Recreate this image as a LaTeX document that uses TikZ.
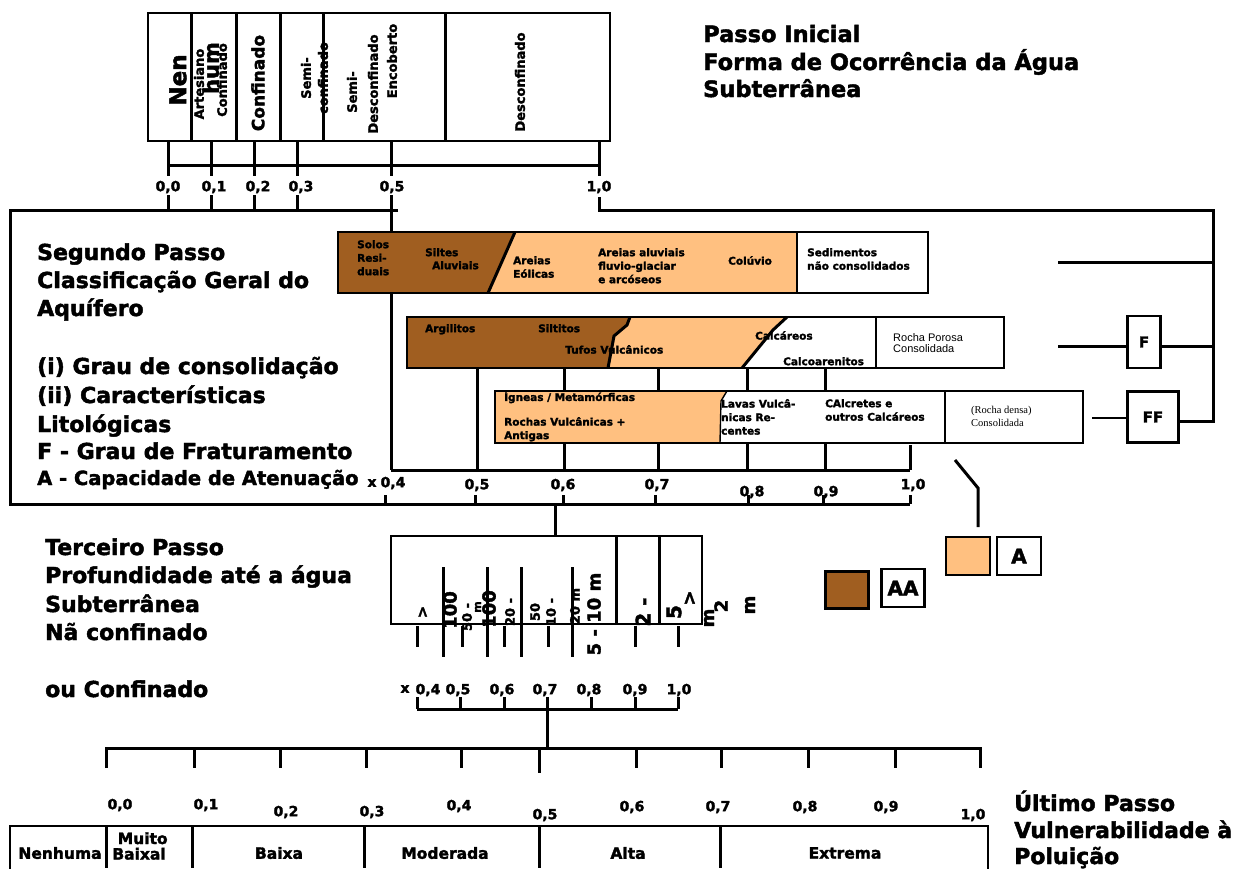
\documentclass[tikz,border=0pt]{standalone}
\usepackage{fontspec}
\setmainfont{DejaVu Sans}[BoldFeatures={FakeBold=2}]
\newfontfamily\lsans{Liberation Sans}
\newfontfamily\lserif{Liberation Serif}
\definecolor{brn}{RGB}{160,94,32}
\definecolor{org}{RGB}{255,192,128}
\begin{document}
\begin{tikzpicture}[x=1pt,y=-1pt,
  ln/.style={line width=3pt},
  thn/.style={line width=1.4pt},
  bx/.style={draw,line width=2.6pt},
  ttl/.style={font=\fontsize{22}{22}\selectfont\bfseries,anchor=base west,inner sep=0pt},
  lab/.style={font=\fontsize{14}{14}\selectfont\bfseries,inner sep=0pt},
  sm/.style={font=\fontsize{10.5}{13.5}\selectfont\bfseries,inner sep=0pt,anchor=north west,align=left},
  vt/.style={rotate=90,inner sep=0pt,font=\bfseries},
  fs/.style={font=\fontsize{#1}{#1}\selectfont\bfseries},
]
\useasboundingbox (0,0) rectangle (1234,868);

% ---------- top box (Passo Inicial) ----------
\node[vt,fs=23] (nen) at (178,80) {Nen};
\node[vt,fs=13] (art) at (199,84) {Artesiano};
\node[vt,fs=13] (conf1) at (222,80) {Confinado};
\node[vt,fs=21] (hum) at (211,68) {hum};
\node[vt,fs=17] (conf) at (258,83) {Confinado};
\node[vt,fs=13] (semi1) at (306,78) {Semi-};
\node[vt,fs=13] (semi1b) at (323,78) {confinado};
\node[vt,fs=13] (semi2) at (352,92) {Semi-};
\node[vt,fs=13] (desc1) at (373,84) {Desconfinado};
\node[vt,fs=13] (enc) at (392,61) {Encoberto};
\node[vt,fs=13] (desc2) at (520,82) {Desconfinado};
\draw[bx] (148,13) rectangle (610,141);
\foreach \x in {191,236,280,323,445} \draw[ln] (\x,13) -- (\x,141);

\draw[ln] (168,165) -- (599,165);
\foreach \x in {168,211,254,297,391,599} \draw[ln] (\x,141) -- (\x,176);
\foreach \x/\t in {168/{0,0},214/{0,1},258/{0,2},301/{0,3},392/{0,5},599/{1,0}}
  \node[lab] at (\x,187) {\t};
\foreach \x in {168,211,254,297} \draw[ln] (\x,195) -- (\x,210);
\draw[ln] (391,195) -- (391,470);
\draw[ln] (599,197) -- (599,210) -- (1213,210) -- (1213,421) -- (1179,421);

\node[ttl,fs=22.5] at (703,42) {Passo Inicial};
\node[ttl,fs=22.5] at (703,70) {Forma de Ocorrência da Água};
\node[ttl,fs=22.5] at (703,97) {Subterrânea};

% ---------- second step frame and axes ----------
\draw[ln] (398,210) -- (10,210) -- (10,504) -- (910,504);
\foreach \x in {385,475,563,655,748,823,910} \draw[ln] (\x,495) -- (\x,504);
\draw[ln] (391,470) -- (910,470);
\foreach \x in {477,564,658,747,825} \draw[ln] (\x,368) -- (\x,470);
\draw[ln] (910,445) -- (910,470);

\node[lab] at (372,483) {x};
\foreach \x/\y/\t in {393/483/{0,4},477/485/{0,5},563/485/{0,6},657/485/{0,7},752/492/{0,8},826/492/{0,9},913/485/{1,0}}
  \node[lab] at (\x,\y) {\t};

\node[ttl] at (37,260) {Segundo Passo};
\node[ttl] at (37,288) {Classificação Geral do};
\node[ttl] at (37,316) {Aquífero};
\node[ttl] at (37,374) {(i) Grau de consolidação};
\node[ttl] at (37,403) {(ii) Características};
\node[ttl] at (37,432) {Litológicas};
\node[ttl] at (37,459) {F - Grau de Fraturamento};
\node[ttl,fs=19.5] at (37,485) {A - Capacidade de Atenuação};

% row 1
\fill[brn] (338,232) -- (515,232) -- (488,293) -- (338,293) -- cycle;
\fill[org] (515,232) -- (797,232) -- (797,293) -- (488,293) -- cycle;
\fill[white] (797,232) rectangle (928,293);
\draw[ln] (515,232) -- (488,293);
\draw[bx] (338,232) rectangle (928,293);
\draw[bx] (797,232) -- (797,293);
\node[sm] at (357,240) {Solos\\Resi-\\duais};
\node[sm] at (425,248) {Siltes};
\node[sm] at (432,261) {Aluviais};
\node[sm] at (513,256) {Areias\\Eólicas};
\node[sm] at (598,248) {Areias aluviais\\fluvio-glaciar\\e arcóseos};
\node[sm] at (728,256) {Colúvio};
\node[sm] at (807,248) {Sedimentos\\não consolidados};

% row 2
\fill[white] (407,317) rectangle (1004,368);
\fill[brn] (407,317) -- (630,317) -- (627,325) -- (614,336) -- (608,368) -- (407,368) -- cycle;
\fill[org] (630,317) -- (787,317) -- (773,330) -- (742,368) -- (608,368) -- (614,336) -- (627,325) -- cycle;
\draw[ln] (630,317) -- (627,325) -- (614,336) -- (608,368);
\draw[ln] (787,317) -- (773,330) -- (742,368);
\draw[bx] (407,317) rectangle (1004,368);
\draw[bx] (876,317) -- (876,368);
\node[sm] at (425,324) {Argilitos};
\node[sm] at (538,324) {Siltitos};
\node[sm] at (565,345) {Tufos Vulcânicos};
\node[sm] at (755,331) {Calcáreos};
\node[sm] at (783,357) {Calcoarenitos};
\node[sm,font=\fontsize{11}{11.5}\selectfont\lsans] at (893,333) {Rocha Porosa\\Consolidada};

% row 3
\fill[white] (495,391) rectangle (1083,443);
\fill[org] (495,391) -- (727,391) -- (721,401) -- (720,443) -- (495,443) -- cycle;
\draw[thn] (727,391) -- (721,401) -- (720,443);
\draw[bx] (495,391) rectangle (1083,443);
\draw[bx] (945,391) -- (945,443);
\node[sm] at (504,391) {Ígneas / Metamórficas};
\node[sm] at (504,417) {Rochas Vulcânicas +\\Antigas};
\node[sm] at (721,399) {Lavas Vulcâ-\\nicas Re-\\centes};
\node[sm] at (825,399) {CAlcretes e\\outros Calcáreos};
\node[sm,font=\fontsize{10.5}{13.5}\selectfont\lserif] at (971,406) {(Rocha densa)\\Consolidada};

% right side F / FF
\draw[ln] (1058,262) -- (1213,262);
\node[draw,line width=2.6pt,minimum width=33pt,minimum height=52pt,fs=15] (F) at (1144,342) {F};
\node[draw,line width=2.6pt,minimum width=51pt,minimum height=51pt,fs=15] (FF) at (1153,417) {FF};
\draw[ln] (1058,346) -- (F.west |- 0,346);
\draw[ln] (F.east |- 0,346) -- (1213,346);
\coordinate (ffin) at (1092,418);
\draw[thn] (ffin) -- (FF.west |- ffin);

% legend
\draw[ln] (955,460) -- (978,488) -- (978,527);
\node[draw,line width=2.6pt,fill=org,minimum width=44pt,minimum height=38pt] (legA) at (968,556) {};
\node[draw,line width=2.6pt,minimum width=44pt,minimum height=38pt,fs=20] (A) at (1019,556) {A};
\node[draw,line width=2.6pt,fill=brn,minimum width=43pt,minimum height=37pt] (legAA) at (847,590) {};
\node[draw,line width=2.6pt,minimum width=43pt,minimum height=38pt,fs=20,inner sep=0pt] (AA) at (903,588) {AA};

% ---------- third step ----------
\draw[ln] (555,504) -- (555,536);
\node[ttl] at (45,555) {Terceiro Passo};
\node[ttl] at (45,583) {Profundidade até a água};
\node[ttl] at (45,612) {Subterrânea};
\node[ttl] at (45,640) {Nã confinado};
\node[ttl] at (45,697) {ou Confinado};

\node[vt,fs=15] at (423,612) {>};
\node[vt,fs=18] at (450,610) {100};
\node[vt,fs=13] at (467,617) {50 -};
\node[vt,fs=11] at (478,607) {m};
\node[vt,fs=18] at (489,609) {100};
\node[vt,fs=13] at (510,612) {20 -};
\node[vt,fs=13] at (535,612) {50};
\node[vt,fs=13] at (551,612) {10 -};
\node[vt,fs=13] at (575,606) {20 m};
\node[vt,fs=18] at (594,614) {5 - 10 m};
\node[vt,fs=20] at (643,612) {2 -};
\node[vt,fs=20] at (674,612) {5};
\node[vt,fs=18] at (690,598) {>};
\node[vt,fs=18] at (709,618) {m};
\node[vt,fs=18] at (721,606) {2};
\node[vt,fs=18] at (750,605) {m};

\draw[bx] (391,536) rectangle (702,624);
\foreach \x in {616,659} \draw[ln] (\x,536) -- (\x,624);
\foreach \x in {443,487,521,572} \draw[ln] (\x,567) -- (\x,657);
\foreach \x in {417,462,504,548,635,678} \draw[ln] (\x,626) -- (\x,647);

\node[lab] at (405,689) {x};
\foreach \x/\t in {428/{0,4},458/{0,5},502/{0,6},545/{0,7},589/{0,8},635/{0,9},679/{1,0}}
  \node[lab] at (\x,690) {\t};
\draw[ln] (417,709) -- (678,709);
\foreach \x in {417,460,504,547,591,635,678} \draw[ln] (\x,697) -- (\x,709);
\draw[ln] (547,709) -- (547,748);

% ---------- last step ----------
\draw[ln] (106,768) -- (106,748) -- (980,748) -- (980,768);
\foreach \x in {194,280,366,461,636,721,808,895} \draw[ln] (\x,748) -- (\x,768);
\draw[ln] (539,748) -- (539,773);
\foreach \x/\y/\t in {120/805/{0,0},206/805/{0,1},286/812/{0,2},372/812/{0,3},459/806/{0,4},545/815/{0,5},632/807/{0,6},718/807/{0,7},805/807/{0,8},886/807/{0,9},973/815/{1,0}}
  \node[lab] at (\x,\y) {\t};

\draw[bx] (10,826) rectangle (988,872);
\foreach \x in {106,192,364,539,720} \draw[ln] (\x,826) -- (\x,868);
\node[lab,fs=15.5] at (60,853) {Nenhuma};
\node[lab,fs=15.5,align=left] at (140,846) {\ Muito\\Baixal};
\node[lab,fs=15.5] at (279,853) {Baixa};
\node[lab,fs=15.5] at (445,853) {Moderada};
\node[lab,fs=15.5] at (628,853) {Alta};
\node[lab,fs=15.5] at (845,853) {Extrema};

\node[ttl] at (1014,811) {Último Passo};
\node[ttl] at (1014,838) {Vulnerabilidade à};
\node[ttl] at (1014,864) {Poluição};
\end{tikzpicture}
\end{document}
